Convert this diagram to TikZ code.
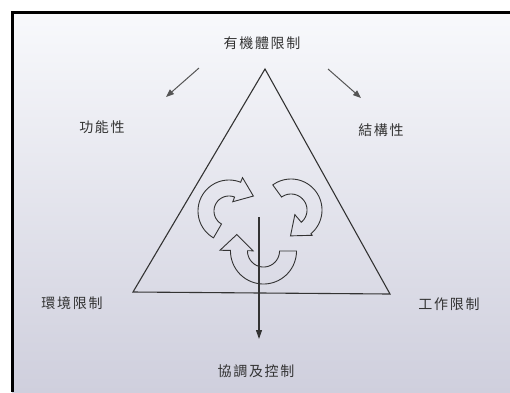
\documentclass[tikz,border=0pt]{standalone}
\usepackage{fontspec}
\newfontfamily\cjk[LetterSpace=12]{Noto Sans CJK TC}
\usetikzlibrary{calc,arrows.meta}
\definecolor{ink}{HTML}{333333}
\definecolor{ink2}{HTML}{555555}
\definecolor{bgtop}{HTML}{F8F9FC}
\definecolor{bgmid}{HTML}{ECEDF3}
\definecolor{bgbot}{HTML}{CFCFDD}
% curved arrow: center, start, end, r_in, r_out, head_in, head_out, head length
\newcommand\cArrow[8]{%
  \begin{scope}[shift={#1}]
    \pgfmathsetmacro\hm{(#6+#7)/2}
    \pgfmathsetmacro\ta{#3+90}
    \draw[carr] plot[domain=#2:#3,samples=60] (\x:#5) -- (#3:#7)
      -- ($(#3:\hm)+(\ta:#8)$) -- (#3:#6)
      -- plot[domain=#3:#2,samples=60] (\x:#4) -- cycle;
  \end{scope}}
\tikzset{
  lbl/.style={font=\cjk\fontsize{14}{16}\selectfont, text=ink, inner sep=0pt},
  tri/.style={draw=ink, line width=1.1pt, line join=miter},
  carr/.style={draw=ink, line width=0.9pt, line join=miter},
  darr/.style={draw=ink2, line width=1pt, -{Triangle[length=8pt,width=6pt]}},
  varr/.style={draw=ink, line width=1.1pt, -{Triangle[length=9pt,width=6pt]}},
}
\begin{document}
\begin{tikzpicture}[x=1pt,y=-1pt]
  \useasboundingbox (0,0) rectangle (510,392);
  \fill[white] (0,0) rectangle (510,392);
  \shade[top color=bgtop, middle color=bgmid, bottom color=bgbot] (12,12) rectangle (510,392);
  \draw[line width=3pt] (12,392) -- (12,12) -- (510,12);

  % labels
  \node[lbl] (org)  at (262,43)  {有機體限制};
  \node[lbl] (func) at (102,127) {功能性};
  \node[lbl] (str)  at (381,130) {結構性};
  \node[lbl] (env)  at (72,303)  {環境限制};
  \node[lbl] (task) at (449,304) {工作限制};
  \node[lbl] (ctrl) at (256,371) {協調及控制};

  % triangle
  \coordinate (A) at (265,69);
  \coordinate (B) at (133,292);
  \coordinate (C) at (390,294);
  \draw[tri] (A) -- (B) -- (C) -- cycle;

  % diagonal arrows
  \coordinate (l1) at (199,68);
  \coordinate (l2) at (166,97);
  \coordinate (r1) at (328,69);
  \coordinate (r2) at (361,98);
  \draw[darr] (l1) -- (l2);
  \draw[darr] (r1) -- (r2);

  % circular arrows
  \cArrow{(229,211)}{120}{292}{15}{31}{10}{36}{17}
  \cArrow{(291,210)}{234}{410}{16}{31}{6}{33}{17}
  \cArrow{(263.5,251)}{0}{181}{16}{33}{10.5}{43.5}{16}

  % vertical arrow
  \coordinate (vs) at (259,217);
  \coordinate (ve) at (259,339);
  \draw[varr] (vs) -- (ve);
\end{tikzpicture}
\end{document}
